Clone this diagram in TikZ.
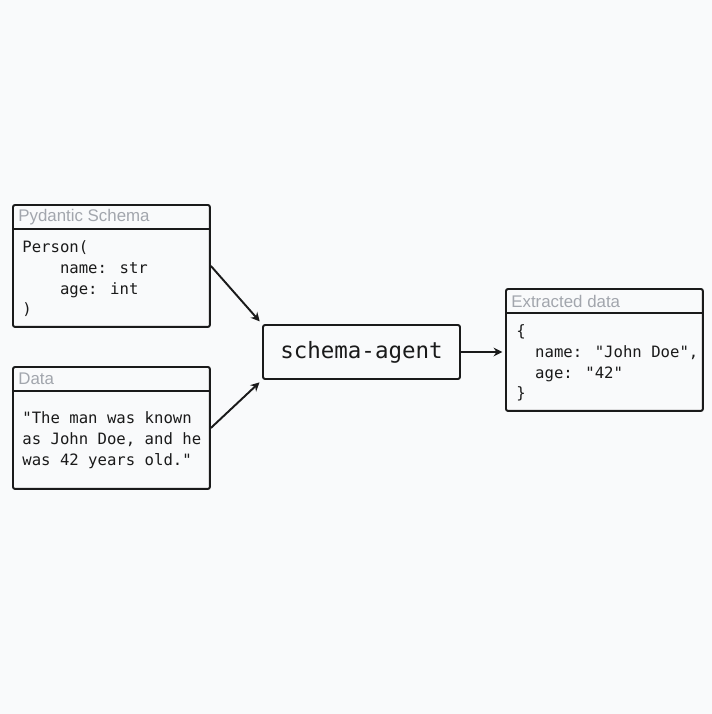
\documentclass[tikz,border=0pt]{standalone}
\usepackage{fontspec}
\setmainfont{Liberation Sans}
\newfontfamily\codefont{DejaVu Sans Mono}
\usetikzlibrary{arrows.meta}
\definecolor{paper}{HTML}{F9FAFB}
\definecolor{ink}{HTML}{1A1A1A}
\definecolor{headgray}{HTML}{A2A6AD}
\tikzstyle{panel} = [draw=ink, line width=1.1pt, rounded corners=1.2pt, minimum width=3.94cm, minimum height=2.44cm, inner sep=0pt]
\tikzstyle{head} = [anchor=west, inner sep=0pt, text=headgray, font=\fontsize{9.6}{11}\selectfont]
\tikzstyle{code} = [anchor=north west, inner sep=0pt, align=left, text=ink, font=\codefont\fontsize{8.9}{11.9}\selectfont]
\tikzstyle{arrow} = [line width=1.1pt, draw=ink, -{Stealth[length=5pt,width=5pt]}]

\begin{document}
\begin{tikzpicture}[x=0.02cm,y=-0.02cm]
    \fill[paper] (0,0) rectangle (712,714);
    \useasboundingbox (0,0) rectangle (712,714);
    % input boxes
    \node[panel, anchor=north west] (schema) at (12,204) {};
    \draw[ink, line width=1.1pt] (12,229) -- (209,229);
    \node[head] (schemahead) at (18,217) {Pydantic Schema};
    \node[code] (schematext) at (22,240)
        {Person(\\\phantom{xxxx}name: str\\\phantom{xxxx}age: int\\)};
    \node[panel, anchor=north west] (data) at (12,366) {};
    \draw[ink, line width=1.1pt] (12,391) -- (209,391);
    \node[head] (datahead) at (18,379) {Data};
    \node[code] (datatext) at (22,411)
        {"The man was known\\as John Doe, and he\\was 42 years old."};
    % agent
    \node[draw=ink, line width=1.1pt, rounded corners=1.2pt, minimum width=3.94cm,
        minimum height=1.08cm, text=ink, font=\codefont\fontsize{12.8}{14}\selectfont]
        (agent) at (361.5,352) {schema-agent};
    % output box
    \node[panel, anchor=north west] (result) at (505,288) {};
    \draw[ink, line width=1.1pt] (505,313) -- (702,313);
    \node[head] (resulthead) at (511,301) {Extracted data};
    \node[code] (resulttext) at (516,324)
        {\{\\\phantom{xx}name: "John Doe",\\\phantom{xx}age: "42"\\\}};
    % arrows
    \draw[arrow, shorten >=2pt] (schema.east) -- (agent.north west);
    \draw[arrow, shorten >=2pt] (data.east) -- (agent.south west);
    \draw[arrow, shorten >=1.5pt] (agent.east) -- (result.west |- agent.east);
\end{tikzpicture}
\end{document}
